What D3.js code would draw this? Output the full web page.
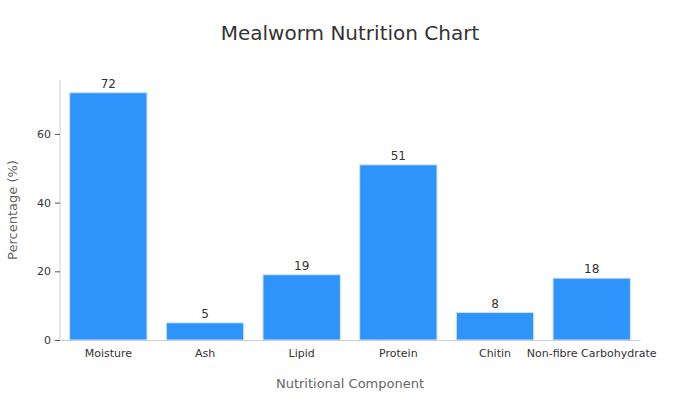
<!DOCTYPE html>
<html><head><meta charset="utf-8">
<script src="https://cdn.jsdelivr.net/npm/d3@7"></script>
<style>body{margin:0;background:#fff}text{font-family:"DejaVu Sans",sans-serif}</style>
</head><body><div class="canvas"></div>
<script>
// chart data
var categories = ['Moisture', 'Ash', 'Lipid', 'Protein', 'Chitin', 'Non-fibre Carbohydrate'],
    values = [72, 5, 19, 51, 8, 18],
    yTicks = [0, 20, 40, 60];

var margin = {top: 80, right: 60, bottom: 60, left: 60},
    width = 700, height = 400,
    plotW = width - margin.left - margin.right,
    plotH = height - margin.top - margin.bottom;

var svg = d3.select('.canvas').append('svg')
    .attr('width', width).attr('height', height);

var x = d3.scaleBand().domain(categories).range([0, plotW])
    .paddingInner(0.2).paddingOuter(0.1);
var y = d3.scaleLinear().domain([0, 75.7]).range([plotH, 0]);

var g = svg.append('g').attr('transform', 'translate(' + margin.left + ',' + margin.top + ')');

g.selectAll('rect').data(values).enter().append('rect')
    .attr('x', function (d, i) { return x(categories[i]); })
    .attr('y', function (d) { return y(d); })
    .attr('width', x.bandwidth())
    .attr('height', function (d) { return plotH - y(d); })
    .attr('fill', '#2e93fa')
    .attr('stroke', '#cfe3fb').attr('stroke-width', 1);

g.selectAll('.lbl').data(values).enter().append('text')
    .attr('x', function (d, i) { return x(categories[i]) + x.bandwidth() / 2; })
    .attr('y', function (d) { return y(d) - 5; })
    .attr('text-anchor', 'middle').attr('font-size', 12).attr('fill', '#333')
    .text(function (d) { return d; });

var ya = g.append('g').call(d3.axisLeft(y).tickValues(yTicks).tickSize(5).tickPadding(4));
ya.selectAll('text').attr('font-size', 11).attr('fill', '#333');
ya.select('.domain').attr('stroke', '#ccc').attr('d', 'M0,0V' + plotH);
ya.selectAll('line').attr('stroke', '#555');

var xa = g.append('g').attr('transform', 'translate(0,' + plotH + ')')
    .call(d3.axisBottom(x).tickSize(0).tickPadding(9));
xa.selectAll('text').attr('font-size', 11).attr('fill', '#333');
xa.select('.domain').attr('stroke', '#ccc');

svg.append('text').attr('x', width / 2).attr('y', 40).attr('text-anchor', 'middle')
    .attr('font-size', 20).attr('fill', '#333').text('Mealworm Nutrition Chart');
svg.append('text').attr('x', margin.left + plotW / 2).attr('y', 388).attr('text-anchor', 'middle')
    .attr('font-size', 13).attr('fill', '#666').text('Nutritional Component');
svg.append('text').attr('transform', 'translate(17,' + (margin.top + plotH / 2) + ') rotate(-90)')
    .attr('text-anchor', 'middle').attr('font-size', 13).attr('fill', '#666').text('Percentage (%)');
</script></body></html>
